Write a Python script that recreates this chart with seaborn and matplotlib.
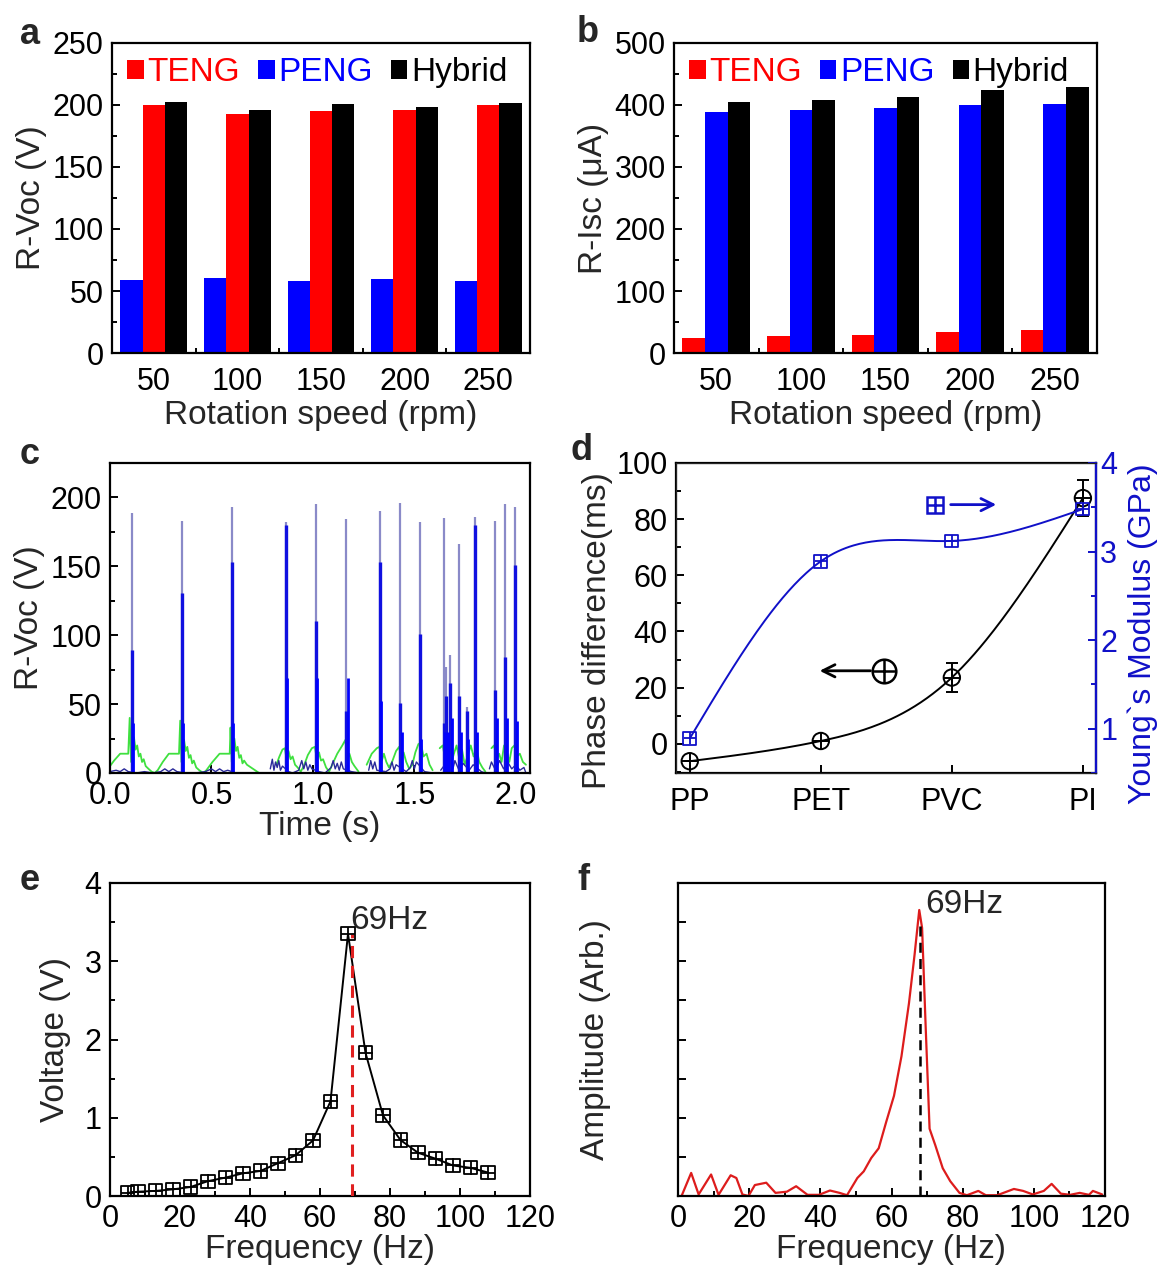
"""
Hybrid TENG/PENG output, rotation tests and resonance figure (panels a-f)
"""

import numpy as np
import pandas as pd
import seaborn as sns
import matplotlib.pyplot as plt
from matplotlib.patches import Patch
from matplotlib.ticker import MultipleLocator, NullFormatter

# ---- panel a / b: rectified outputs vs rotation speed
speeds = ["50", "100", "150", "200", "250"]
voc_teng = [200.0, 193.0, 195.0, 196.0, 200.0]
voc_peng = [58.7, 60.6, 58.0, 59.3, 58.0]
voc_hybrid = [202.5, 196.0, 200.6, 198.5, 201.7]
isc_teng = [23.6, 27.9, 29.0, 33.3, 37.0]
isc_peng = [388.0, 392.0, 395.0, 400.0, 401.0]
isc_hybrid = [404.5, 407.7, 413.0, 425.0, 428.6]

# ---- panel c: R-Voc vs time
spike_t = [0.107, 0.354, 0.600, 0.865, 1.014, 1.163, 1.330, 1.430, 1.526,
           1.644, 1.657, 1.676, 1.721, 1.758, 1.800, 1.898, 1.947, 1.997]
spike_top = [189, 183, 193, 182, 195, 184, 190, 196, 182,
             185, 77, 86, 166, 48, 186, 183, 195, 193]
spike_mid = [89, 131, 153, 180, 110, 45, 153, 51, 101,
             36, 56, 65, 56, 45, 180, 60, 84, 151]
spike_ring = [36, 36, 36, 69, 69, 69, 52, 30, 25,
              30, 30, 40, 30, 25, 30, 40, 40, 38]

green_t = [0.000, 0.020, 0.050, 0.090, 0.097, 0.104, 0.118, 0.126, 0.134, 0.142, 0.150, 0.158, 0.166, 0.176, 0.190, 0.205, 0.220,
           0.235, 0.260, 0.290, 0.340, 0.346, 0.352, 0.365, 0.373, 0.381, 0.389, 0.397, 0.405, 0.413, 0.425, 0.440, 0.460,
           0.475, 0.505, 0.540, 0.590, 0.594, 0.600, 0.613, 0.621, 0.629, 0.637, 0.645, 0.653, 0.661, 0.675, 0.695, 0.715, 0.735,
           np.nan,
           0.820, 0.835, 0.850, 0.862, 0.872, 0.880, 0.890, 0.900, 0.912, 0.925, 0.940,
           0.955, 0.975, 0.995, 1.010, 1.020, 1.030, 1.040, 1.050, 1.065, 1.080,
           1.095, 1.120, 1.145, 1.160, 1.170, 1.180, 1.192, 1.205, 1.225,
           np.nan,
           1.265, 1.290, 1.315, 1.328, 1.340, 1.350, 1.362, 1.375,
           1.390, 1.410, 1.425, 1.437, 1.447, 1.460, 1.475,
           1.490, 1.505, 1.520, 1.532, 1.545, 1.560, 1.575, 1.590,
           np.nan,
           1.625, 1.640, 1.652, 1.665, 1.680, 1.695, 1.708, 1.722, 1.735, 1.748, 1.762, 1.778, 1.792, 1.806, 1.820, 1.835, 1.850,
           np.nan,
           1.880, 1.893, 1.905, 1.918, 1.930, 1.942, 1.955, 1.968, 1.980, 1.993, 2.005, 2.020, 2.035, 2.050]
green_v = [5, 9, 14, 14, 40, 8, 26, 17, 20, 12, 14, 8, 10, 5, 3, 1, 0,
           2, 8, 14, 14, 38, 8, 24, 16, 19, 11, 13, 7, 9, 4, 2, 0,
           2, 8, 14, 14, 33, 8, 25, 16, 19, 11, 13, 7, 9, 6, 4, 2, 0,
           np.nan,
           6, 12, 17, 18, 8, 16, 10, 12, 6, 4, 1,
           5, 13, 18, 19, 9, 15, 9, 10, 4, 1,
           6, 14, 20, 24, 10, 14, 8, 5, 1,
           np.nan,
           6, 14, 18, 19, 9, 14, 8, 4,
           8, 16, 19, 10, 15, 8, 3,
           6, 15, 21, 22, 12, 14, 6, 2,
           np.nan,
           18, 20, 10, 15, 6, 14, 20, 10, 17, 6, 12, 20, 12, 18, 8, 4, 1,
           np.nan,
           18, 20, 10, 14, 8, 20, 16, 8, 18, 20, 12, 14, 8, 6]

navy_t = [0.00, 0.03, 0.05, 0.07, 0.09, 0.13, 0.17, 0.21, 0.25, 0.27, 0.29, 0.31, 0.33, 0.37,
          0.42, 0.47, 0.50, 0.52, 0.54, 0.56, 0.58, 0.62, 0.70, 0.75,
          np.nan,
          0.790, 0.800, 0.808, 0.816, 0.824, 0.832, 0.840, 0.850, 0.880, 0.900, 0.930, 0.945, 0.955,
          0.965, 0.975, 0.985, 0.995, 1.030, 1.060, 1.090, 1.100, 1.110, 1.120, 1.130, 1.140, 1.150,
          1.190, 1.230,
          np.nan,
          1.275, 1.285, 1.295, 1.305, 1.315, 1.360, 1.380, 1.390, 1.400, 1.410, 1.460, 1.480, 1.490,
          1.500, 1.510, 1.550, 1.590,
          np.nan,
          1.630, 1.660, 1.690, 1.700, 1.720, 1.740, 1.770, 1.790, 1.830, 1.850,
          np.nan,
          1.870, 1.880, 1.900, 1.920, 1.940, 1.960, 1.980, 2.000, 2.020, 2.040, 2.050]
navy_v = [1, 2, 1, 3, 1, 0, 1, 0, 1, 3, 1, 3, 1, 0,
          0, 1, 3, 1, 3, 1, 2, 0, 0, 0,
          np.nan,
          3, 10, 2, 8, 4, 9, 2, 5, 1, 0, 2, 9, 3,
          8, 2, 6, 3, 1, 0, 4, 9, 3, 7, 2, 8, 3,
          1, 0,
          np.nan,
          2, 9, 3, 8, 2, 1, 3, 8, 2, 6, 1, 4, 9,
          3, 8, 1, 0,
          np.nan,
          2, 8, 3, 9, 2, 7, 2, 6, 1, 0,
          np.nan,
          3, 8, 2, 9, 3, 8, 3, 6, 2, 4, 0]

# ---- panel d: phase difference and Young's modulus
films = ["PP", "PET", "PVC", "PI"]
phase = [-6.2, 1.0, 23.6, 87.5]
phase_err = [0.0, 0.0, 5.0, 6.5]
modulus = [0.89, 2.89, 3.12, 3.48]

# ---- panel e: voltage vs frequency
freq_e = [5, 8, 13, 18, 23, 28, 33, 38, 43, 48, 53, 58, 63, 68, 73, 78, 83, 88, 93, 98, 103, 108]
volt_e = [0.04, 0.055, 0.065, 0.085, 0.115, 0.19, 0.235, 0.29, 0.32, 0.42, 0.52, 0.71,
          1.21, 3.35, 1.83, 1.03, 0.715, 0.553, 0.477, 0.39, 0.36, 0.30]

# ---- panel f: FFT amplitude
freq_f = [1.0, 3.7, 5.8, 9.3, 11.4, 14.8, 16.4, 18.1, 19.8, 21.6, 24.8, 27.4, 30.6, 33.2, 36.4,
          39.6, 42.7, 45.4, 47.5, 50.4, 52.2, 54.3, 56.4, 58.5, 60.7, 62.8, 64.9, 66.5, 67.8,
          68.6, 69.6, 70.7, 72.3, 74.4, 76.5, 79.1, 81.2, 84.4, 86.5, 89.7, 94.4, 97.0, 99.7,
          102.8, 105.0, 107.6, 110.2, 112.9, 115.5, 116.6, 119.2]
amp_f = [0.0, 0.59, 0.04, 0.55, 0.03, 0.53, 0.46, 0.04, 0.0, 0.28, 0.34, 0.08, 0.11, 0.25, 0.03,
         0.03, 0.14, 0.08, 0.02, 0.46, 0.63, 0.97, 1.22, 1.89, 2.56, 3.57, 4.92, 6.18, 7.31,
         6.85, 4.33, 1.72, 1.30, 0.71, 0.38, 0.08, 0.02, 0.13, 0.02, 0.02, 0.18, 0.13, 0.04,
         0.13, 0.31, 0.06, 0.03, 0.08, 0.03, 0.13, 0.04]

W, H = 1158, 1269
COLORS = {"TENG": "#ff0000", "PENG": "#0000ff", "Hybrid": "#000000"}
BLUE_D = "#1010c8"
TICK_FS = 22
LABEL_FS = 24


def box(left, top, right, bottom):
    return [left / W, 1 - bottom / H, (right - left) / W, (bottom - top) / H]


def natural_spline(x, y, n=200):
    """Smooth connecting curve through the points (like the original plotting software)"""
    x = np.asarray(x, float)
    y = np.asarray(y, float)
    k = len(x) - 1
    h = np.diff(x)
    A = np.zeros((k + 1, k + 1))
    r = np.zeros(k + 1)
    A[0, 0] = A[k, k] = 1
    for i in range(1, k):
        A[i, i - 1] = h[i - 1]
        A[i, i] = 2 * (h[i - 1] + h[i])
        A[i, i + 1] = h[i]
        r[i] = 3 * ((y[i + 1] - y[i]) / h[i] - (y[i] - y[i - 1]) / h[i - 1])
    c = np.linalg.solve(A, r)
    b = (y[1:] - y[:-1]) / h - h * (2 * c[:-1] + c[1:]) / 3
    d = (c[1:] - c[:-1]) / (3 * h)
    xs = np.linspace(x[0], x[-1], n)
    idx = np.clip(np.searchsorted(x, xs) - 1, 0, k - 1)
    dx = xs - x[idx]
    return xs, y[idx] + b[idx] * dx + c[idx] * dx ** 2 + d[idx] * dx ** 3


def style_axes(ax):
    for sp in ax.spines.values():
        sp.set_linewidth(1.6)
        sp.set_color("black")
    ax.tick_params(which="both", direction="in", labelsize=TICK_FS, width=1.4,
                   colors="black", pad=6)
    ax.tick_params(which="major", length=6)
    ax.tick_params(which="minor", length=3.5)


def segments(t, v):
    t = np.asarray(t, float)
    v = np.asarray(v, float)
    seg = np.cumsum(np.isnan(v))
    return pd.DataFrame({"t": t, "v": v, "seg": seg}).dropna()


def bar_panel(ax, teng, peng, hybrid, order, ymax, major, minor, ylabel):
    df = pd.DataFrame({
        "speed": speeds * 3,
        "value": teng + peng + hybrid,
        "kind": ["TENG"] * 5 + ["PENG"] * 5 + ["Hybrid"] * 5,
    })
    sns.barplot(data=df, x="speed", y="value", hue="kind", order=speeds,
                hue_order=order, palette=COLORS, saturation=1, width=0.8,
                edgecolor="none", linewidth=0, legend=False, ax=ax)
    ax.set_xlim(-0.5, 4.5)
    ax.set_ylim(0, ymax)
    ax.yaxis.set_major_locator(MultipleLocator(major))
    ax.yaxis.set_minor_locator(MultipleLocator(minor))
    ax.set_xticks(np.arange(0.5, 4.5, 1.0), minor=True)
    style_axes(ax)
    ax.tick_params(axis="x", which="major", length=0, pad=10)
    ax.set_xlabel("Rotation speed (rpm)", fontsize=LABEL_FS, labelpad=2)
    ax.set_ylabel(ylabel, fontsize=LABEL_FS, labelpad=4)
    handles = [Patch(facecolor=COLORS[k], edgecolor="none") for k in ["TENG", "PENG", "Hybrid"]]
    leg = ax.legend(handles, ["TENG", "PENG", "Hybrid"], ncol=3, loc="upper left",
                    bbox_to_anchor=(-0.02, 1.03), frameon=False, fontsize=LABEL_FS,
                    handlelength=0.5, handleheight=0.5, handletextpad=0.1,
                    columnspacing=0.55, borderpad=0.2)
    for txt, k in zip(leg.get_texts(), ["TENG", "PENG", "Hybrid"]):
        txt.set_color(COLORS[k])


def run() -> None:
    sns.set_style("ticks")
    plt.rcParams["font.family"] = ["Liberation Sans", "DejaVu Sans"]

    fig = plt.figure(figsize=(W / 100, H / 100), dpi=100)

    # ---- a
    ax_a = fig.add_axes(box(112, 43, 530, 353))
    bar_panel(ax_a, voc_teng, voc_peng, voc_hybrid, ["PENG", "TENG", "Hybrid"],
              250, 50, 25, "R-Voc (V)")

    # ---- b
    ax_b = fig.add_axes(box(674, 43, 1097, 353))
    bar_panel(ax_b, isc_teng, isc_peng, isc_hybrid, ["TENG", "PENG", "Hybrid"],
              500, 100, 50, "R-Isc (\u03bcA)")

    # ---- c
    ax_c = fig.add_axes(box(110, 463, 530, 773))
    g = segments(green_t, green_v)
    sns.lineplot(data=g, x="t", y="v", units="seg", estimator=None, sort=False,
                 color="#3fe03f", lw=1.3, ax=ax_c)
    n = segments(navy_t, navy_v)
    sns.lineplot(data=n, x="t", y="v", units="seg", estimator=None, sort=False,
                 color="#2a2a9a", lw=1.0, ax=ax_c)
    ax_c.vlines(spike_t, 0, spike_top, color="#8a8ac8", lw=1.6)
    ax_c.vlines(spike_t, 0, spike_mid, color="#1010e0", lw=2.4)
    ax_c.vlines(np.asarray(spike_t) + 0.008, 0, spike_ring, color="#0000ff", lw=2.0)
    ax_c.set_xlim(0, 2.07)
    ax_c.set_ylim(0, 225)
    ax_c.xaxis.set_major_locator(MultipleLocator(0.5))
    ax_c.xaxis.set_major_formatter(plt.FormatStrFormatter("%.1f"))
    ax_c.yaxis.set_major_locator(MultipleLocator(50))
    ax_c.yaxis.set_minor_locator(MultipleLocator(25))
    style_axes(ax_c)
    ax_c.set_xlabel("Time (s)", fontsize=LABEL_FS, labelpad=0)
    ax_c.set_ylabel("R-Voc (V)", fontsize=LABEL_FS, labelpad=4)

    # ---- d
    ax_d = fig.add_axes(box(676, 463, 1096, 773))
    xd = np.arange(len(films))
    xs, ys = natural_spline(xd, phase)
    sns.lineplot(x=xs, y=ys, color="black", lw=1.4, sort=False, estimator=None, ax=ax_d)
    ax_d.errorbar(xd, phase, yerr=phase_err, fmt="none", ecolor="black",
                  elinewidth=1.4, capsize=4, capthick=1.4)
    sns.scatterplot(x=xd, y=phase, marker="o", s=140, facecolor="none",
                    edgecolor="black", linewidth=1.4, ax=ax_d, zorder=4)
    sns.scatterplot(x=xd, y=phase, marker="+", s=140, color="black",
                    linewidth=1.4, ax=ax_d, zorder=4)
    ax_d.set_xlim(-0.105, 3.1)
    ax_d.set_ylim(-10.4, 100)
    ax_d.set_xticks(xd)
    ax_d.set_xticklabels(films)
    ax_d.yaxis.set_major_locator(MultipleLocator(20))
    ax_d.yaxis.set_minor_locator(MultipleLocator(10))
    style_axes(ax_d)
    ax_d.tick_params(axis="x", pad=10)
    ax_d.set_ylabel("Phase difference(ms)", fontsize=LABEL_FS, labelpad=2)
    ax_d.yaxis.set_label_coords(-0.15, 0.46)
    # left-axis key
    ax_d.annotate("", xy=(0.97, 26), xytext=(1.40, 26),
                  arrowprops=dict(arrowstyle="->", color="black", lw=2, mutation_scale=22))
    ax_d.plot([1.48], [26], ls="none", marker="o", ms=17, mfc="none", mec="black", mew=1.8)
    ax_d.plot([1.48], [26], ls="none", marker="+", ms=17, mec="black", mew=1.8)

    ax_r = ax_d.twinx()
    xs, ys = natural_spline(xd, modulus)
    sns.lineplot(x=xs, y=ys, color=BLUE_D, lw=1.4, sort=False, estimator=None, ax=ax_r)
    sns.scatterplot(x=xd, y=modulus, marker="s", s=85, facecolor="none",
                    edgecolor=BLUE_D, linewidth=1.3, ax=ax_r, zorder=4)
    sns.scatterplot(x=xd, y=modulus, marker="+", s=85, color=BLUE_D,
                    linewidth=1.3, ax=ax_r, zorder=4)
    ax_r.set_ylim(0.5, 4)
    ax_r.yaxis.set_major_locator(MultipleLocator(1))
    ax_r.yaxis.set_minor_locator(MultipleLocator(0.5))
    ax_r.tick_params(which="both", direction="in", labelsize=TICK_FS, width=1.4,
                     colors=BLUE_D, pad=3)
    ax_r.tick_params(which="major", length=6)
    ax_r.tick_params(which="minor", length=3.5)
    ax_r.spines["right"].set_color(BLUE_D)
    ax_r.spines["right"].set_linewidth(1.6)
    ax_r.set_ylabel("Young`s Modulus (GPa)", fontsize=23, color=BLUE_D, labelpad=1)
    ax_r.yaxis.set_label_coords(1.075, 0.45)
    # right-axis key
    ax_r.plot([1.87], [3.53], ls="none", marker="s", ms=12, mfc="none", mec=BLUE_D, mew=1.8)
    ax_r.plot([1.87], [3.53], ls="none", marker="+", ms=12, mec=BLUE_D, mew=1.8)
    ax_r.annotate("", xy=(2.36, 3.53), xytext=(1.97, 3.53),
                  arrowprops=dict(arrowstyle="->", color=BLUE_D, lw=2, mutation_scale=22))

    # ---- e
    ax_e = fig.add_axes(box(110, 883, 530, 1196))
    sns.lineplot(x=freq_e, y=volt_e, color="black", lw=1.4, sort=False, estimator=None, ax=ax_e)
    sns.scatterplot(x=freq_e, y=volt_e, marker="s", s=90, facecolor="none",
                    edgecolor="black", linewidth=1.3, ax=ax_e, zorder=4)
    sns.scatterplot(x=freq_e, y=volt_e, marker="+", s=90, color="black",
                    linewidth=1.3, ax=ax_e, zorder=4)
    ax_e.vlines(69, 0, 3.35, color="#e02020", ls=(0, (4, 2.5)), lw=2.2, zorder=3)
    ax_e.text(68.5, 3.52, "69Hz", fontsize=LABEL_FS, ha="left", va="center")
    ax_e.set_xlim(0, 120)
    ax_e.set_ylim(0, 4)
    ax_e.xaxis.set_major_locator(MultipleLocator(20))
    ax_e.xaxis.set_minor_locator(MultipleLocator(10))
    ax_e.yaxis.set_major_locator(MultipleLocator(1))
    ax_e.yaxis.set_minor_locator(MultipleLocator(0.5))
    style_axes(ax_e)
    ax_e.set_xlabel("Frequency (Hz)", fontsize=LABEL_FS, labelpad=0)
    ax_e.set_ylabel("Voltage (V)", fontsize=LABEL_FS, labelpad=10)

    # ---- f
    ax_f = fig.add_axes(box(678, 883, 1105, 1196))
    sns.lineplot(x=freq_f, y=amp_f, color="#dd1c1c", lw=1.6, sort=False, estimator=None, ax=ax_f)
    ax_f.vlines(68, 0, 6.95, color="black", ls=(0, (4, 2.5)), lw=1.8, zorder=3)
    ax_f.text(69.5, 7.45, "69Hz", fontsize=LABEL_FS, ha="left", va="center")
    ax_f.set_xlim(0, 120)
    ax_f.set_ylim(0, 8)
    ax_f.xaxis.set_major_locator(MultipleLocator(20))
    ax_f.xaxis.set_minor_locator(MultipleLocator(10))
    ax_f.yaxis.set_major_locator(MultipleLocator(1))
    ax_f.yaxis.set_major_formatter(NullFormatter())
    style_axes(ax_f)
    ax_f.set_xlabel("Frequency (Hz)", fontsize=LABEL_FS, labelpad=0)
    ax_f.set_ylabel("Amplitude (Arb.)", fontsize=LABEL_FS, labelpad=42)

    # panel letters
    for letter, (px, py) in zip("abcdef", [(30, 35), (588, 32), (30, 455),
                                           (582, 450), (30, 880), (583, 880)]):
        fig.text(px / W, 1 - py / H, letter, fontsize=26, fontweight="bold",
                 ha="center", va="center")

    fig.savefig("out.png", dpi=100)


if __name__ == "__main__":
    run()
